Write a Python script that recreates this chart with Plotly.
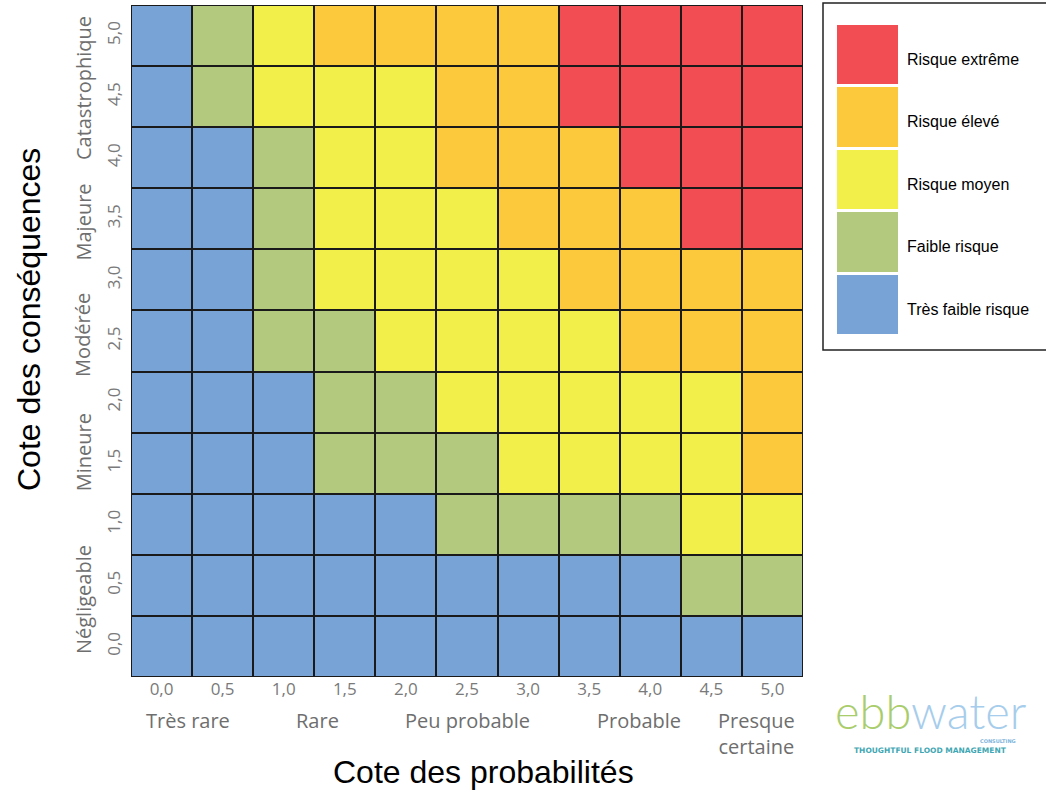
import plotly.graph_objects as go

# Scale values on both axes
probabilites = [0.0, 0.5, 1.0, 1.5, 2.0, 2.5, 3.0, 3.5, 4.0, 4.5, 5.0]
consequences = [0.0, 0.5, 1.0, 1.5, 2.0, 2.5, 3.0, 3.5, 4.0, 4.5, 5.0]
tick_labels = ["0,0", "0,5", "1,0", "1,5", "2,0", "2,5", "3,0", "3,5", "4,0", "4,5", "5,0"]

# Risk level per cell (0 = très faible ... 4 = extrême), one row per consequence value
niveaux = [
    [0, 0, 0, 0, 0, 0, 0, 0, 0, 0, 0],
    [0, 0, 0, 0, 0, 0, 0, 0, 0, 1, 1],
    [0, 0, 0, 0, 0, 1, 1, 1, 1, 2, 2],
    [0, 0, 0, 1, 1, 1, 2, 2, 2, 2, 3],
    [0, 0, 0, 1, 1, 2, 2, 2, 2, 2, 3],
    [0, 0, 1, 1, 2, 2, 2, 2, 3, 3, 3],
    [0, 0, 1, 2, 2, 2, 2, 3, 3, 3, 3],
    [0, 0, 1, 2, 2, 2, 3, 3, 3, 4, 4],
    [0, 0, 1, 2, 2, 3, 3, 3, 4, 4, 4],
    [0, 1, 2, 2, 2, 3, 3, 4, 4, 4, 4],
    [0, 1, 2, 3, 3, 3, 3, 4, 4, 4, 4],
]

# Legend entries, ordered from top to bottom
legende_noms = ["Risque extrême", "Risque élevé", "Risque moyen", "Faible risque", "Très faible risque"]
legende_niveaux = [4, 3, 2, 1, 0]

# Verbal categories along each axis and their positions
prob_categories = ["Très rare", "Rare", "Peu probable", "Probable", "Presque<br>certaine"]
prob_positions = [0.22, 1.28, 2.5, 3.91, 4.87]
cons_categories = ["Négligeable", "Mineure", "Modérée", "Majeure", "Catastrophique"]
cons_positions = [0.38, 1.59, 2.55, 3.47, 4.57]

couleurs = ["#78A3D6", "#B2C97E", "#F3EF4A", "#FDC93C", "#F24D53"]

W, H = 1046, 794


def px_x(p):
    return p / W


def px_y(p):
    return 1 - p / H


colorscale = []
for i, c in enumerate(couleurs):
    colorscale.append([i / 5, c])
    colorscale.append([(i + 1) / 5, c])

fig = go.Figure()

fig.add_trace(go.Heatmap(
    x=probabilites, y=consequences, z=niveaux,
    zmin=-0.5, zmax=4.5, colorscale=colorscale, showscale=False,
    xgap=2, ygap=2, hoverinfo="skip",
    xaxis="x", yaxis="y",
))

# Legend swatches drawn as a one-column heatmap
fig.add_trace(go.Heatmap(
    x=[0], y=list(range(5)), z=[[v] for v in legende_niveaux[::-1]],
    zmin=-0.5, zmax=4.5, colorscale=colorscale, showscale=False,
    ygap=3, hoverinfo="skip",
    xaxis="x2", yaxis="y2",
))

gray = "#7a7a7a"
tickfont = dict(family="Open Sans", size=17, color=gray)

fig.update_layout(
    width=W, height=H,
    margin=dict(l=0, r=0, t=0, b=0),
    paper_bgcolor="white",
    plot_bgcolor="white",
    showlegend=False,
    xaxis=dict(
        domain=[px_x(131), px_x(803)], range=[-0.25, 5.25],
        tickvals=probabilites, ticktext=tick_labels, tickfont=tickfont,
        showgrid=False, zeroline=False, ticks="", fixedrange=True,
        anchor="y",
    ),
    yaxis=dict(
        domain=[px_y(677), px_y(5)], range=[-0.25, 5.25],
        tickvals=consequences, ticktext=tick_labels, tickfont=tickfont,
        tickangle=-90, showgrid=False, zeroline=False, ticks="", fixedrange=True,
        ticklabelstandoff=7, anchor="x",
    ),
    xaxis2=dict(
        domain=[px_x(837), px_x(898)], range=[-0.5, 0.5], visible=False,
        anchor="y2",
    ),
    yaxis2=dict(
        domain=[px_y(336), px_y(24)], range=[-0.5, 4.5], visible=False,
        anchor="x2",
    ),
)

# Black backing behind the matrix so the cell gaps read as grid lines
fig.add_shape(
    type="rect", xref="x", yref="y", x0=-0.25, x1=5.25, y0=-0.25, y1=5.25,
    fillcolor="#1a1a1a", line=dict(width=0), layer="below",
)

annotations = []
catfont = dict(family="Open Sans", size=20, color="#6e6e6e")
for name, pos in zip(prob_categories, prob_positions):
    annotations.append(dict(
        x=pos, y=px_y(705), xref="x", yref="paper", text=name,
        showarrow=False, font=catfont, yanchor="top", xanchor="center",
        align="center",
    ))
for name, pos in zip(cons_categories, cons_positions):
    annotations.append(dict(
        x=px_x(83), y=pos, xref="paper", yref="y", text=name,
        showarrow=False, font=catfont, textangle=-90,
        xanchor="center", yanchor="middle",
    ))

titlefont = dict(family="Liberation Sans", size=32, color="black")
annotations.append(dict(
    x=px_x(483), y=px_y(772), xref="paper", yref="paper",
    text="Cote des probabilités", showarrow=False, font=titlefont,
    xanchor="center", yanchor="middle",
))
annotations.append(dict(
    x=px_x(29), y=px_y(320), xref="paper", yref="paper",
    text="Cote des conséquences", showarrow=False, font=titlefont,
    textangle=-90, xanchor="center", yanchor="middle",
))

# Legend labels
legfont = dict(family="Liberation Sans", size=16, color="black")
for i, name in enumerate(legende_noms):
    annotations.append(dict(
        x=px_x(905), y=(4 - i) - 0.07, xref="paper", yref="y2", text=name,
        showarrow=False, font=legfont, xanchor="left", yanchor="middle",
    ))

# Logo
annotations.append(dict(
    x=px_x(930), y=px_y(711), xref="paper", yref="paper",
    text="<span style='color:#A9CD6C'>ebb</span><span style='color:#A6CDEB'>water</span>",
    showarrow=False, font=dict(family="Lato", size=47, weight=300),
    xanchor="center", yanchor="middle",
))
annotations.append(dict(
    x=px_x(1018), y=px_y(741), xref="paper", yref="paper",
    text="CONSULTING", showarrow=False,
    font=dict(family="DejaVu Sans", size=5, color="#7fb5dc", weight="bold"),
    xanchor="right", yanchor="middle",
))
annotations.append(dict(
    x=px_x(930), y=px_y(750), xref="paper", yref="paper",
    text="THOUGHTFUL FLOOD MANAGEMENT", showarrow=False,
    font=dict(family="DejaVu Sans", size=7.5, color="#3fa7b3", weight="bold"),
    xanchor="center", yanchor="middle",
))

fig.update_layout(annotations=annotations)

# Frame around the legend
fig.add_shape(
    type="rect", xref="paper", yref="paper",
    x0=px_x(823), x1=px_x(1052), y0=px_y(350), y1=px_y(3),
    line=dict(color="#222222", width=1.5), fillcolor="rgba(0,0,0,0)",
)

fig.write_html("out.html")
